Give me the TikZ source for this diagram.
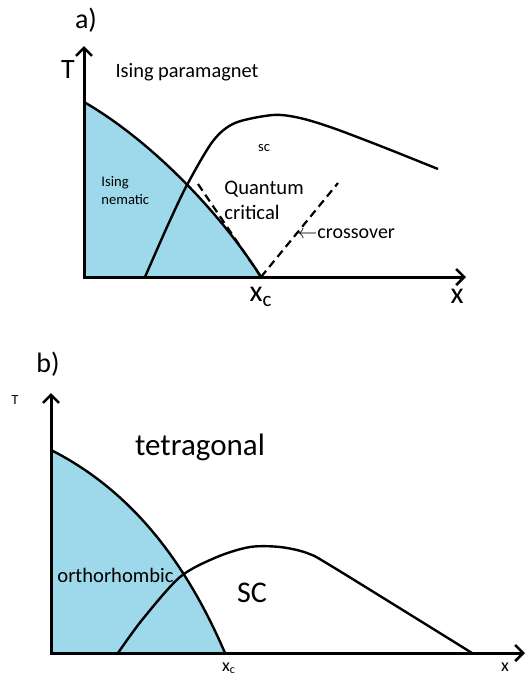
\documentclass[tikz,border=0pt]{standalone}
\usepackage{fontspec}
\setmainfont{Carlito}
\usetikzlibrary{arrows.meta}
\definecolor{nemblue}{RGB}{157,217,234}

\begin{document}
\begin{tikzpicture}[x=0.5pt,y=-0.5pt,
  axis/.style={line width=1.5pt,{Straight Barb[length=4pt,width=8pt,line width=1.3pt]}-{Straight Barb[length=4pt,width=8pt,line width=1.3pt]}},
  curve/.style={line width=1.2pt},
  dashline/.style={line width=1.1pt,dash pattern=on 4pt off 2.5pt},
  lbl/.style={inner sep=0pt}]
\useasboundingbox (0,0) rectangle (528,681);

% a) Ising nematic
\coordinate (Oa) at (84,277);
\coordinate (Ta) at (84,46);
\coordinate (Xa) at (466,277);
\coordinate (Na) at (84,102);
\coordinate (xca) at (261,277);
\coordinate (dl) at (198,184);
\coordinate (dr) at (338,183);
\fill[nemblue] (Oa) -- (Na) .. controls (150,140) and (220,212) .. (xca) -- cycle;
\draw[curve] (Na) .. controls (150,140) and (220,212) .. (xca);
\draw[curve] plot[smooth] coordinates {(145,277) (167,227) (187,185) (213,141) (235,123) (273,115) (300,118) (333,128) (383,147) (438,169)};
\draw[dashline] (dl) -- (xca);
\draw[dashline] (xca) -- (dr);
\draw[axis] (Ta) -- (Oa) -- (Xa);
\node[lbl,font=\fontsize{14}{16}\selectfont] (la) at (86,20) {a)};
\node[lbl,font=\fontsize{14}{16}\selectfont] (Tla) at (68,70) {T};
\node[lbl,font=\fontsize{15}{17}\selectfont] (xla) at (457,296) {x};
\node[lbl,font=\fontsize{15}{17}\selectfont,anchor=north] (xcla) at (xca) [yshift=-5pt] {x\textsubscript{c}};
\node[lbl,font=\fontsize{10.2}{12}\selectfont] (para) at (187,72) {Ising paramagnet};
\node[lbl,font=\fontsize{7.3}{9}\selectfont] (sca) at (264,148) {sc};
\node[lbl,font=\fontsize{7.3}{9}\selectfont,align=left,anchor=west] (nem) at (101,191) {Ising\\nematic};
\node[lbl,font=\fontsize{10.3}{12.5}\selectfont,align=left,anchor=west] (qc) at (224,200) {Quantum\\critical};
\node[lbl,font=\fontsize{10}{12}\selectfont,anchor=west] (cross) at (297,234) {$\leftarrow$crossover};

% b) orthorhombic
\coordinate (Ob) at (51,653);
\coordinate (Tb) at (51,393);
\coordinate (Xb) at (525,653);
\coordinate (Nb) at (51,450);
\coordinate (xcb) at (225,653);
\fill[nemblue] (Ob) -- (Nb) .. controls (130,490) and (185,560) .. (xcb) -- cycle;
\draw[curve] (Nb) .. controls (130,490) and (185,560) .. (xcb);
\draw[curve] plot[smooth] coordinates {(118,653) (142,620) (180,577) (217,557) (250,547) (280,547) (307,553) (333,567) (472,653)};
\draw[axis] (Tb) -- (Ob) -- (Xb);
\node[lbl,font=\fontsize{14}{16}\selectfont] (lb) at (48,364) {b)};
\node[lbl,font=\fontsize{7}{9}\selectfont] (Tlb) at (15,400) {T};
\node[lbl,font=\fontsize{9}{11}\selectfont] (xlb) at (505,667) {x};
\node[lbl,font=\fontsize{9}{11}\selectfont,anchor=north] (xclb) at (229,662) {x\textsubscript{c}};
\node[lbl,font=\fontsize{15.5}{18}\selectfont] (tet) at (200,447) {tetragonal};
\node[lbl,font=\fontsize{10.3}{12}\selectfont,anchor=west] (orth) at (57,575) {orthorhombic};
\node[lbl,font=\fontsize{15}{17}\selectfont] (scb) at (252,593) {SC};
\end{tikzpicture}
\end{document}
